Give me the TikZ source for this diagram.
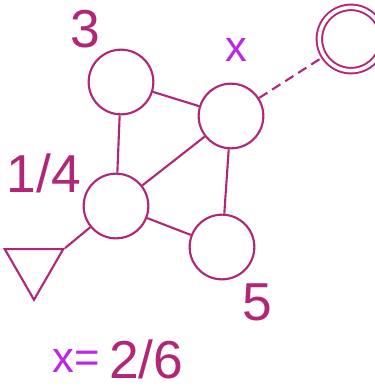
\documentclass[tikz,border=0pt]{standalone}
\usepackage{fontspec}
\setmainfont{Liberation Sans}
\usepackage{tikz}
\usetikzlibrary{positioning,shapes.geometric}
\definecolor{plum}{RGB}{178,38,120}
\definecolor{violx}{RGB}{188,38,232}

\begin{document}
\begin{tikzpicture}[
  x=0.025cm, y=-0.025cm,
  place/.style={circle, draw=plum, line width=1.5pt,
    minimum size=46pt, inner sep=0pt},
  goalplace/.style={circle, draw=plum, line width=1.4pt, double=white,
    double distance=2.5pt, minimum size=45pt, inner sep=0pt},
  startplace/.style={regular polygon, regular polygon sides=3,
    shape border rotate=180, draw=plum, line width=1.5pt,
    minimum size=48pt, inner sep=0pt},
  link/.style={plum, line width=1.5pt},
  dlink/.style={link, dash pattern=on 7pt off 4pt},
  num/.style={text=plum, font=\fontsize{38}{38}\selectfont, inner sep=0pt},
  var/.style={text=violx, font=\fontsize{31}{31}\selectfont, inner sep=0pt},
]
\useasboundingbox (0,0) rectangle (375,391);

% states
\node[place] (A) at (121,82) {};
\node[place] (B) at (231,116) {};
\node[place] (C) at (116,206) {};
\node[place] (D) at (222,247) {};
\node[goalplace] (G) at (351,39) {};
\node[startplace] (S) at (34,266) {};

% connections
\draw[link] (A) -- (B);
\draw[link] (A) -- (C);
\draw[link] (B) -- (C);
\draw[link] (B) -- (D);
\draw[link] (C) -- (D);
\draw[link] (C) -- (S.corner 2);
\draw[dlink] (B) -- (G);

% labels
\node[num] (lA) at (85,29) {3};
\node[var] (lB) at (236,50) {x};
\node[num] (lC) at (44,173) {1/4};
\node[num] (lD) at (257,302) {5};
\node[var, anchor=base west] (lx) at (52,372) {x=};
\node[num, anchor=base west] (lv) at (109,378) {2/6};
\end{tikzpicture}
\end{document}
